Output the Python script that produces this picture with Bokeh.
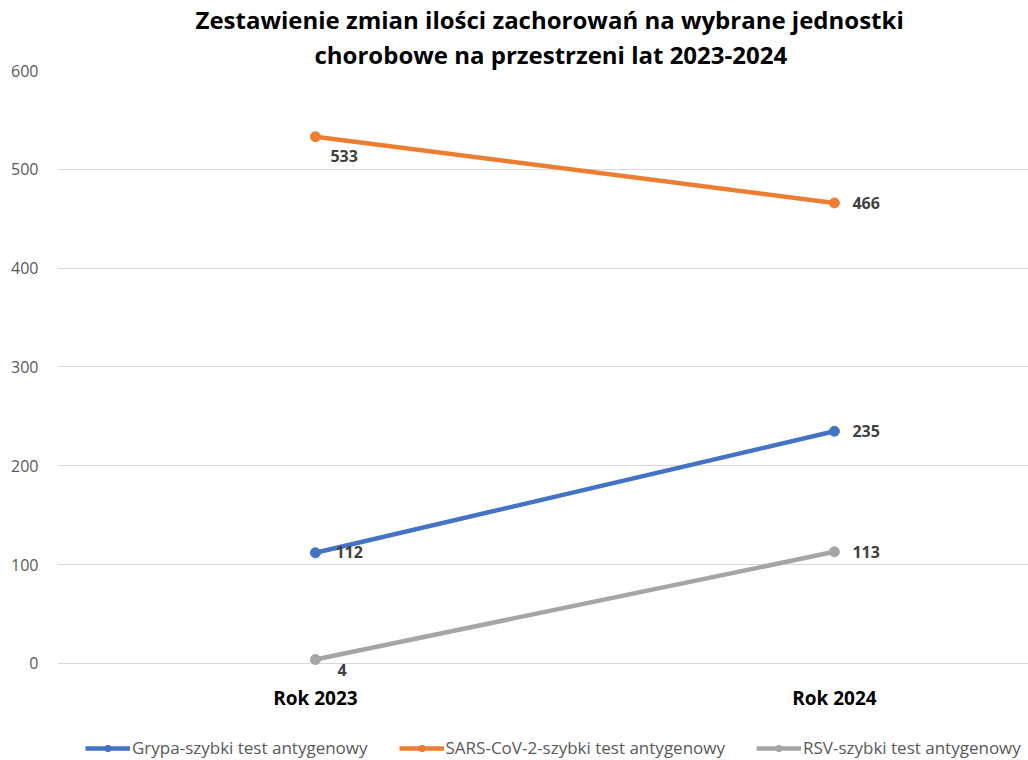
from bokeh.plotting import figure
from bokeh.layouts import column
from bokeh.models import (Range1d, FixedTicker, Title, Legend, LegendItem)
from bokeh.core.properties import value
from bokeh.embed import file_html
from bokeh.resources import INLINE

years = ["Rok 2023", "Rok 2024"]
grypa = [112, 235]
sars = [533, 466]
rsv = [4, 113]
series_names = ["Grypa-szybki test antygenowy", "SARS-CoV-2-szybki test antygenowy", "RSV-szybki test antygenowy"]
y_ticks = [0, 100, 200, 300, 400, 500, 600]
title_lines = ["Zestawienie zmian ilości zachorowań na wybrane jednostki",
               "chorobowe na przestrzeni lat 2023-2024"]

colors = ["#4472C4", "#ED7D31", "#A5A5A5"]
# label offsets (screen px) per series, per point
label_offsets = [
    [(20, 1), (18, 0)],
    [(15, -19), (18, 0)],
    [(22, -10), (18, 0)],
]
title_offsets = [138, 257]

FONT = "Open Sans"
xs = list(range(len(years)))

p = figure(frame_width=971, frame_height=613, output_backend="svg", toolbar_location=None,
           x_range=Range1d(-0.497, 1.374), y_range=Range1d(-20.24, 600),
           min_border_left=57, min_border_right=0, min_border_top=69,
           min_border_bottom=52)
p.title = None
p.outline_line_color = None
p.background_fill_color = "white"
p.border_fill_color = "white"

# titles (later added goes further up)
for line, off in reversed(list(zip(title_lines, title_offsets))):
    t = Title(text=line, align="left", text_font=FONT, text_font_style="bold",
              text_font_size="24px", text_color="#000000",
              standoff=0, offset=off)
    p.add_layout(t, "above")

# axes
p.yaxis.ticker = FixedTicker(ticks=y_ticks)
p.yaxis.axis_line_color = None
p.yaxis.major_tick_line_color = None
p.yaxis.minor_tick_line_color = None
p.yaxis.major_tick_out = 0
p.yaxis.minor_tick_out = 0
p.yaxis.major_label_text_color = "#595959"
p.yaxis.major_label_text_font = FONT
p.yaxis.major_label_text_font_size = "16px"
p.yaxis.major_label_standoff = 19

p.xaxis.ticker = FixedTicker(ticks=xs)
p.xaxis.major_label_overrides = {i: y for i, y in zip(xs, years)}
p.xaxis.axis_line_color = None
p.xaxis.major_tick_line_color = None
p.xaxis.minor_tick_line_color = None
p.xaxis.major_tick_out = 0
p.xaxis.minor_tick_out = 0
p.xaxis.major_label_text_color = "#000000"
p.xaxis.major_label_text_font = FONT
p.xaxis.major_label_text_font_style = "bold"
p.xaxis.major_label_text_font_size = "19px"
p.xaxis.major_label_standoff = 1

p.xgrid.grid_line_color = None
p.ygrid.grid_line_color = "#D9D9D9"
p.ygrid.grid_line_width = 1

series = [grypa, sars, rsv]
for vals, col, offs in zip(series, colors, label_offsets):
    p.line(xs, vals, line_color=col, line_width=4.5)
    p.scatter(xs, vals, size=10, fill_color=col, line_color=col)
    for x, v, (dx, dy) in zip(xs, vals, offs):
        p.text([x], [v], text=[str(v)], x_offset=dx, y_offset=-dy,
               text_font=value(FONT), text_font_style="bold", text_font_size="16px",
               text_color="#404040", text_align="left", text_baseline="middle")

# legend strip (separate small figure below the chart; its data lies outside its view)
p2 = figure(width=1028, height=24, output_backend="svg", toolbar_location=None,
            x_axis_type=None, y_axis_type=None, min_border=0,
            x_range=Range1d(-0.497, 1.374), y_range=Range1d(-3000, -2000))
p2.outline_line_color = None
p2.grid.grid_line_color = None
items = []
for vals, col, name in zip(series, colors, series_names):
    lr = p2.line(xs, vals, line_color=col, line_width=4.5)
    sr = p2.scatter(xs, vals, size=8, fill_color=col, line_color=col)
    items.append(LegendItem(label=name, renderers=[lr, sr]))

legend = Legend(items=items, orientation="horizontal", location=(28, 0),
                label_text_font=FONT, label_text_font_size="17px",
                label_text_color="#595959", glyph_width=45, glyph_height=16,
                label_height=18, label_standoff=2, spacing=31, padding=0, margin=0,
                border_line_color=None, background_fill_alpha=0)
p2.add_layout(legend, "center")

layout = column(p, p2, spacing=0)
open("out.html", "w").write(file_html(layout, INLINE))
